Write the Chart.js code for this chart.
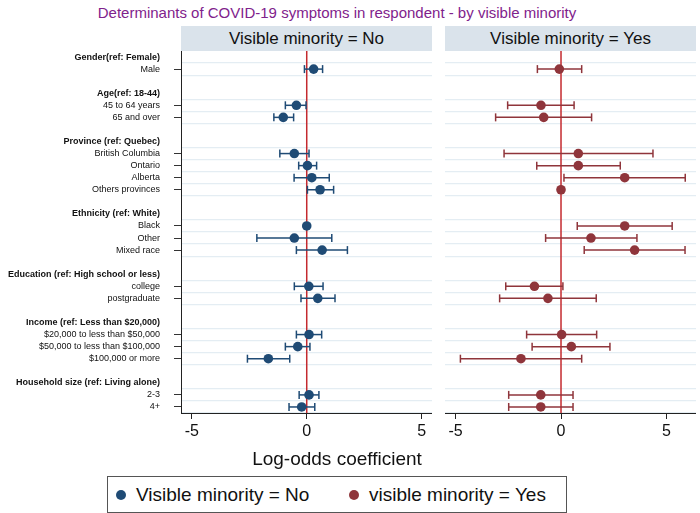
<!DOCTYPE html>
<html>
<head>
  <title>Determinants of COVID-19 symptoms</title>
  <script src="https://cdn.jsdelivr.net/npm/chart.js@4/dist/chart.umd.min.js"></script>
  <style>
    body { margin: 0; background: #fff; font-family: 'Liberation Sans', Arial, sans-serif; }
    #wrap { position: relative; width: 700px; height: 513px; overflow: hidden; background: #fff; }
    #wrap canvas { position: absolute; }
    .title { position: absolute; left: 0; top: 4px; width: 674px; text-align: center; font-size: 15px; line-height: 17px; color: #7f228c; }
    .strip { position: absolute; top: 26px; height: 25px; line-height: 26px; background: #dae3eb; text-align: center; font-size: 17px; color: #111; }
    .xtitle { position: absolute; left: 0; top: 448px; width: 674px; text-align: center; font-size: 19px; line-height: 22px; color: #111; }
    .legend { position: absolute; left: 107px; top: 476px; width: 460px; height: 37px; box-sizing: border-box; border: 1px solid #555; font-size: 19px; color: #111; }
    .legend .dot { position: absolute; top: 13px; width: 10px; height: 10px; border-radius: 50%; }
    .legend .txt { position: absolute; top: 7px; line-height: 22px; white-space: nowrap; }
  </style>
</head>
<body>
<div id="wrap">
  <div class="title">Determinants of COVID-19 symptoms in respondent - by visible minority</div>
  <div class="strip" style="left:181px;width:251px">Visible minority = No</div>
  <div class="strip" style="left:445px;width:251px">Visible minority = Yes</div>
  <canvas id="panelNo" width="432" height="400" style="left:0;top:51px"></canvas>
  <canvas id="panelYes" width="251" height="400" style="left:445px;top:51px"></canvas>
  <div class="xtitle">Log-odds coefficient</div>
  <div class="legend">
    <span class="dot" style="left:8px;background:#1f4b75"></span>
    <span class="txt" style="left:28px">Visible minority = No</span>
    <span class="dot" style="left:241px;background:#8f353b"></span>
    <span class="txt" style="left:261px">visible minority = Yes</span>
  </div>
</div>
<script>
  // row groups (header + items)
  const groups = ['Gender(ref: Female)', 'Age(ref: 18-44)', 'Province (ref: Quebec)', 'Ethnicity (ref: White)',
    'Education (ref: High school or less)', 'Income (ref: Less than $20,000)', 'Household size (ref: Living alone)'];
  const groupItems = [
    ['Male'],
    ['45 to 64 years', '65 and over'],
    ['British Columbia', 'Ontario', 'Alberta', 'Others provinces'],
    ['Black', 'Other', 'Mixed race'],
    ['college', 'postgraduate'],
    ['$20,000 to less than $50,000', '$50,000 to less than $100,000', '$100,000 or more'],
    ['2-3', '4+']
  ];

  // log-odds coefficients and 95% CI, one entry per item in order
  const noCoef = [0.3, -0.45, -1.02, -0.54, 0.03, 0.22, 0.58, 0, -0.54, 0.67, 0.09, 0.48, 0.1, -0.39, -1.67, 0.1, -0.22];
  const noLow  = [-0.1, -0.93, -1.43, -1.17, -0.35, -0.55, 0.03, null, -2.17, -0.45, -0.54, -0.25, -0.45, -0.93, -2.58, -0.33, -0.77];
  const noHigh = [0.69, -0.03, -0.57, 0.1, 0.43, 0.98, 1.17, null, 1.09, 1.77, 0.71, 1.23, 0.65, 0.14, -0.74, 0.53, 0.35];

  const yesCoef = [-0.08, -0.95, -0.82, 0.82, 0.82, 3.02, 0, 3.02, 1.42, 3.49, -1.26, -0.62, 0.03, 0.49, -1.9, -0.96, -0.96];
  const yesLow  = [-1.12, -2.53, -3.1, -2.7, -1.15, 0.14, null, 0.77, -0.73, 1.1, -2.62, -2.91, -1.63, -1.37, -4.77, -2.48, -2.48];
  const yesHigh = [0.98, 0.62, 1.45, 4.36, 2.81, 5.89, null, 5.27, 3.6, 5.88, 0.09, 1.67, 1.69, 2.32, 0.98, 0.57, 0.57];

  const xTicks = [-5, 0, 5];

  // build row layout: header, items, blank spacer
  var rowLabels = [];
  var headerRows = [];
  var dataRows = [];
  groups.forEach((g, gi) => {
    headerRows.push(rowLabels.length);
    rowLabels.push(g);
    groupItems[gi].forEach(item => {
      dataRows.push(rowLabels.length);
      rowLabels.push(item);
    });
    if (gi < groups.length - 1) rowLabels.push('');
  });

  // grid lines sit between rows next to each item
  var gridPos = [];
  dataRows.forEach(r => {
    [r - 0.5, r + 0.5].forEach(v => { if (!gridPos.includes(v)) gridPos.push(v); });
  });

  const FONT = "'Liberation Sans', Arial, sans-serif";
  const yMin = -0.5, yMax = rowLabels.length - 0.5;

  function noPad(s) {
    s.paddingTop = 0; s.paddingBottom = 0; s.paddingLeft = 0; s.paddingRight = 0;
  }

  const refLine = {
    id: 'refLine',
    beforeDatasetsDraw(chart) {
      var x = chart.scales.x.getPixelForValue(0);
      var a = chart.chartArea;
      var c = chart.ctx;
      c.save();
      c.strokeStyle = '#c42a2f';
      c.lineWidth = 1.5;
      c.beginPath();
      c.moveTo(x, a.top);
      c.lineTo(x, a.bottom);
      c.stroke();
      c.restore();
    }
  };

  function makePanel(id, coef, low, high, color, xMin, xMax, showLabels) {
    var datasets = [{
      data: coef.map((v, i) => ({ x: v, y: dataRows[i] })),
      backgroundColor: color,
      borderWidth: 0,
      pointRadius: 4.8
    }];
    coef.forEach((v, i) => {
      if (low[i] === null) return;
      datasets.push({
        type: 'line',
        showLine: true,
        data: [{ x: low[i], y: dataRows[i] }, { x: high[i], y: dataRows[i] }],
        borderColor: color,
        borderWidth: 1.5,
        pointStyle: 'line',
        pointRotation: 90,
        pointRadius: 4,
        pointBorderColor: color,
        pointBorderWidth: 1.5
      });
    });

    return new Chart(document.getElementById(id), {
      type: 'scatter',
      data: { datasets: datasets },
      options: {
        responsive: false,
        animation: false,
        layout: { padding: 0, autoPadding: false },
        plugins: { legend: { display: false }, tooltip: { enabled: false } },
        scales: {
          x: {
            type: 'linear',
            min: xMin,
            max: xMax,
            afterBuildTicks: (s) => { s.ticks = xTicks.map(v => ({ value: v })); },
            afterFit: (s) => { s.height = 38; noPad(s); },
            grid: { drawOnChartArea: false, drawTicks: true, tickLength: 6, tickColor: '#222' },
            border: { display: true, color: '#222', width: 1 },
            ticks: { color: '#111', padding: 3, font: { family: FONT, size: 16 } }
          },
          y: {
            type: 'linear',
            position: 'left',
            reverse: true,
            min: yMin,
            max: yMax,
            afterBuildTicks: (s) => {
              s.ticks = showLabels ? rowLabels.map((l, i) => ({ value: i })).filter(t => rowLabels[t.value] !== '') : [];
            },
            afterFit: (s) => { s.width = showLabels ? 181 : 0; noPad(s); },
            grid: {
              drawOnChartArea: false,
              drawTicks: showLabels,
              tickLength: 7,
              tickColor: (ctx) => headerRows.includes(ctx.tick && ctx.tick.value) ? 'rgba(0,0,0,0)' : '#333'
            },
            border: { display: showLabels, color: '#222', width: 1 },
            ticks: {
              display: showLabels,
              autoSkip: false,
              padding: 14,
              color: '#111',
              callback: (v) => rowLabels[v],
              font: (ctx) => ({
                family: FONT,
                size: 9,
                weight: headerRows.includes(ctx.tick && ctx.tick.value) ? 'bold' : 'normal'
              })
            }
          },
          yGrid: {
            type: 'linear',
            position: 'left',
            reverse: true,
            min: yMin,
            max: yMax,
            afterBuildTicks: (s) => { s.ticks = gridPos.map(v => ({ value: v })); },
            afterFit: (s) => { s.width = 0; noPad(s); },
            grid: { drawTicks: false, color: '#e4edf3', lineWidth: 1.2 },
            border: { display: false },
            ticks: { display: false }
          }
        }
      },
      plugins: [refLine]
    });
  }

  makePanel('panelNo', noCoef, noLow, noHigh, '#1f4b75', -5.47, 5.45, true);
  makePanel('panelYes', yesCoef, yesLow, yesHigh, '#8f353b', -5.5, 6.4, false);
</script>
</body>
</html>
